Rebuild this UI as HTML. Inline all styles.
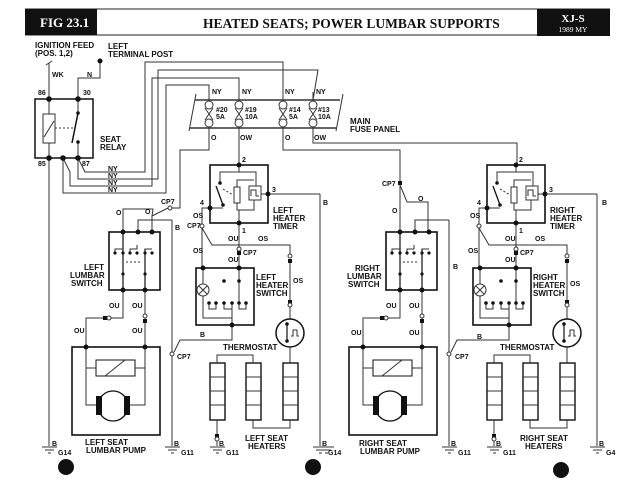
<!DOCTYPE html>
<html><head><meta charset="utf-8"><style>
html,body{margin:0;padding:0;background:#fff;}
svg{display:block}
text{font-family:"Liberation Sans",sans-serif;font-weight:bold;fill:#111}
.s{font-size:7px}
.m{font-size:8px}
</style></head><body>
<svg width="640" height="480" viewBox="0 0 640 480" xmlns="http://www.w3.org/2000/svg">
<rect width="640" height="480" fill="#fff"/>
<!-- header -->
<line x1="25" y1="9" x2="610" y2="9" stroke="#222" stroke-width="1"/>
<line x1="25" y1="35" x2="610" y2="35" stroke="#222" stroke-width="1"/>
<rect x="25" y="9" width="72" height="26" fill="#111"/>
<rect x="537" y="9" width="73" height="27" fill="#111"/>
<text x="40" y="27" style="font-family:'Liberation Serif',serif;font-size:13px;fill:#fff">FIG 23.1</text>
<text x="203" y="28" style="font-family:'Liberation Serif',serif;font-size:13.5px">HEATED SEATS; POWER LUMBAR SUPPORTS</text>
<text x="573" y="22" text-anchor="middle" style="font-family:'Liberation Serif',serif;font-size:11px;fill:#fff">XJ-S</text>
<text x="573" y="32" text-anchor="middle" style="font-family:'Liberation Serif',serif;font-size:7.5px;font-weight:normal;fill:#fff">1989 MY</text>

<g fill="none" stroke="#333" stroke-width="1">
<!-- relay -->
<rect x="35" y="99" width="58" height="59" stroke-width="1.5" stroke="#111"/>
<rect x="43" y="114" width="12" height="29" fill="#fff"/>
<line x1="44" y1="137" x2="54" y2="121"/>
<line x1="55" y1="128" x2="73" y2="128" stroke-dasharray="2,2"/>
<line x1="72" y1="143" x2="78" y2="113" stroke-width="1.5" stroke="#111"/>
<line x1="49" y1="99" x2="49" y2="114"/><line x1="49" y1="143" x2="49" y2="158"/>
<line x1="78" y1="99" x2="78" y2="113"/><line x1="78" y1="142" x2="78" y2="158"/>
<!-- feeds -->
<line x1="49" y1="99" x2="49" y2="63"/><line x1="46" y1="65" x2="52" y2="61"/>
<polyline points="78,99 78,78 100,78 100,61"/>
<!-- NY wires -->
<polyline points="78,158 85,172 145,172 145,62 283,62 283,100"/>
<polyline points="78,158 78,179 158,179 158,70 318,70 313,100"/>
<polyline points="63,158 70,172 70,186 152,186 152,78 239,78 239,100"/>
<polyline points="63,158 63,193 166,193 166,85 209,85 209,100"/>
<line x1="49" y1="158" x2="49" y2="446"/>
<!-- fuse panel -->
<line x1="195" y1="100" x2="340" y2="100" stroke-width="1.5"/>
<line x1="190" y1="128" x2="336" y2="128" stroke-width="1.5"/>
<line x1="196" y1="94" x2="189" y2="131"/>
<line x1="343" y1="94" x2="336" y2="131"/>
</g>
<g id="fuse" fill="#fff" stroke="#333">
<circle cx="209" cy="105" r="4"/><circle cx="209" cy="123" r="4"/>
<path d="M205,108 L213,120 M213,108 L205,120" fill="none"/>
</g>
<use href="#fuse" x="30"/><use href="#fuse" x="74"/><use href="#fuse" x="104"/>
<g fill="none" stroke="#333">
<line x1="209" y1="92" x2="209" y2="101"/><line x1="239" y1="92" x2="239" y2="101"/><line x1="283" y1="92" x2="283" y2="101"/><line x1="313" y1="92" x2="313" y2="101"/>
<!-- fuse outputs -->
<polyline points="209,127 209,150 180,150 180,208 172,208"/>
<polyline points="123,232 123,209 153,209 152,216 168,208"/>
<line x1="152" y1="232" x2="152" y2="216"/>
<line x1="239" y1="127" x2="239" y2="165"/>
<polyline points="283,127 283,150 400,150 400,182"/>
<polyline points="400,185 407,202 428,202 428,232"/>
<line x1="400" y1="185" x2="400" y2="232"/>
<polyline points="313,127 313,143 517,143 517,165"/>
<line x1="320" y1="194" x2="320" y2="446"/>
<line x1="269" y1="194" x2="320" y2="194"/>
</g>
<circle cx="170" cy="208" r="2" fill="#fff" stroke="#333"/>

<!-- half (shapes shared) -->
<g id="half">
<g fill="none" stroke="#333" stroke-width="1">
<!-- timer -->
<rect x="210" y="165" width="58" height="58" stroke="#111" stroke-width="1.6"/>
<polyline points="239,165 239,172 220,172 220,183"/>
<line x1="216" y1="186" x2="223" y2="205" stroke="#111" stroke-width="1.3"/>
<line x1="210" y1="208" x2="223" y2="208"/>
<line x1="223" y1="189" x2="233" y2="195" stroke-dasharray="2,2"/>
<polyline points="239,172 256,172 256,186"/>
<rect x="234" y="187" width="6" height="16"/>
<polyline points="237,187 237,180 254,180"/>
<rect x="249" y="186" width="12" height="14"/>
<path d="M251,196 L251,190 L256,190 L256,196 L259,196"/>
<polyline points="237,203 237,210 254,210 254,200"/>
<line x1="239" y1="210" x2="239" y2="223"/>
<line x1="261" y1="194" x2="268" y2="194"/>
<!-- timer wiring -->
<polyline points="210,208 202,208 202,224"/>
<line x1="202" y1="228" x2="202" y2="268"/>
<polyline points="202,228 212,245 290,245 290,257"/>
<line x1="239" y1="223" x2="239" y2="250"/>
<line x1="239" y1="254" x2="239" y2="268"/>
<line x1="290" y1="261" x2="290" y2="300"/>
<line x1="290" y1="304" x2="290" y2="319"/>
<!-- heater switch -->
<rect x="196" y="268" width="58" height="57" stroke="#111" stroke-width="1.6"/>
<line x1="203" y1="268" x2="203" y2="284"/>
<polyline points="203,296 203,318 232,318"/>
<line x1="239" y1="268" x2="239" y2="303"/>
<path d="M209,303 v6 h7 v-6 M224,303 v6 h8 v-6 M239,303 v6 h7 v-6"/>
<line x1="232" y1="303" x2="232" y2="325"/>
<polyline points="232,325 232,340 180,340 174,352"/>
<!-- thermostat -->
<circle cx="290" cy="333" r="14" stroke="#111" stroke-width="1.5"/>
<polyline points="287,324 287,341" stroke="#111" stroke-width="1.2"/>
<path d="M291,336 h2 v-6 h4 v6 h2"/>
<line x1="290" y1="347" x2="290" y2="363"/>
<!-- heaters -->
<rect x="210" y="363" width="15" height="57" stroke="#111" stroke-width="1.4"/>
<rect x="246" y="363" width="15" height="57" stroke="#111" stroke-width="1.4"/>
<rect x="283" y="363" width="15" height="57" stroke="#111" stroke-width="1.4"/>
<path d="M210,377 h15 M210,391 h15 M210,405 h15 M246,377 h15 M246,391 h15 M246,405 h15 M283,377 h15 M283,391 h15 M283,405 h15"/>
<polyline points="217,363 217,355 253,355 253,363"/>
<polyline points="253,420 253,428 290,428 290,420"/>
<line x1="217" y1="420" x2="217" y2="446"/>
<line x1="172" y1="220" x2="172" y2="446"/>
<!-- lumbar switch -->
<rect x="109" y="232" width="51" height="58" stroke="#111" stroke-width="1.6"/>
<polyline points="138,232 138,220 172,220"/>
<path d="M115,253 v-4 h8 v4 M130,253 v-4 h7 v-4 M145,253 v-4 h7"/>
<line x1="123" y1="232" x2="123" y2="290" stroke-width="1.4"/>
<line x1="145" y1="249" x2="145" y2="290" stroke-width="1.4"/>
<line x1="126" y1="262" x2="142" y2="262" stroke-dasharray="2,2"/>
<polyline points="123,290 123,318 108,318"/>
<polyline points="104,318 86,318 86,347"/>
<line x1="145" y1="290" x2="145" y2="347"/>
<!-- pump -->
<rect x="72" y="347" width="88" height="88" stroke="#111" stroke-width="1.6"/>
<rect x="96" y="360" width="39" height="16" stroke="#111"/>
<line x1="105" y1="376" x2="125" y2="360"/>
<path d="M86,347 V405 H97 M145,347 V405 H130 M86,368 H96 M135,368 H145"/>
<circle cx="113" cy="406" r="15" stroke="#111" stroke-width="1.3" fill="#fff"/>
</g>
<g fill="#111">
<rect x="96" y="396" width="6" height="19"/><rect x="124" y="396" width="6" height="19"/>
<circle cx="239" cy="165" r="2.5"/><circle cx="239" cy="223" r="2.5"/><circle cx="210" cy="208" r="2.5"/><circle cx="268" cy="194" r="2.5"/>
<circle cx="220" cy="183" r="1.8"/><circle cx="223" cy="205" r="1.8"/>
<circle cx="203" cy="268" r="2.5"/><circle cx="239" cy="268" r="2.5"/><circle cx="232" cy="325" r="2.5"/>
<circle cx="224" cy="281" r="1.8"/><circle cx="239" cy="281" r="1.8"/>
<circle cx="209" cy="303" r="1.8"/><circle cx="216" cy="303" r="1.8"/><circle cx="224" cy="303" r="1.8"/><circle cx="232" cy="303" r="1.8"/><circle cx="239" cy="303" r="1.8"/><circle cx="246" cy="303" r="1.8"/>
<circle cx="287" cy="324" r="1.8"/><circle cx="287" cy="341" r="1.8"/>
<circle cx="123" cy="232" r="2.5"/><circle cx="138" cy="232" r="2.5"/><circle cx="152" cy="232" r="2.5"/>
<circle cx="123" cy="290" r="2.5"/><circle cx="145" cy="290" r="2.5"/>
<circle cx="115" cy="253" r="1.6"/><circle cx="123" cy="253" r="1.6"/><circle cx="130" cy="253" r="1.6"/><circle cx="137" cy="253" r="1.6"/><circle cx="145" cy="253" r="1.6"/><circle cx="152" cy="253" r="1.6"/>
<circle cx="123" cy="274" r="1.6"/><circle cx="145" cy="274" r="1.6"/>
<circle cx="86" cy="347" r="2.5"/><circle cx="145" cy="347" r="2.5"/>
<rect x="237" y="251" width="4" height="4"/><rect x="103" y="316" width="4" height="4"/><rect x="143" y="319" width="4" height="4"/>
<rect x="288" y="300" width="4" height="4"/><rect x="288" y="259" width="4" height="4"/><rect x="215" y="434" width="4" height="4"/>
</g>
<g fill="#fff" stroke="#333">
<circle cx="203" cy="290" r="6"/><path d="M199,286 L207,294 M207,286 L199,294"/>
<circle cx="202" cy="226" r="2"/><circle cx="172" cy="354" r="2"/>
<circle cx="239" cy="249" r="2"/><circle cx="109" cy="318" r="2"/><circle cx="145" cy="316" r="2"/>
<circle cx="290" cy="256" r="2"/><circle cx="290" cy="305" r="2"/><circle cx="217" cy="439" r="2"/>
</g>
<!-- grounds -->
<g id="gnd" stroke="#333" fill="none"><path d="M42,447 h15 M45,450 h9 M48,453 h3"/></g>
<use href="#gnd" x="123"/><use href="#gnd" x="168"/>
</g>
<use href="#half" x="277"/>
<use href="#gnd"/><use href="#gnd" x="271"/><use href="#gnd" x="548"/>
<line x1="597" y1="194" x2="597" y2="446" stroke="#333"/>
<line x1="546" y1="194" x2="597" y2="194" stroke="#333"/>
<g fill="#111">
<circle cx="49" cy="99" r="2.8"/><circle cx="78" cy="99" r="2.8"/><circle cx="49" cy="158" r="2.8"/><circle cx="63" cy="158" r="2.8"/><circle cx="78" cy="158" r="2.8"/>
<circle cx="78" cy="113" r="1.8"/><circle cx="78" cy="142" r="1.8"/><circle cx="100" cy="61" r="2.5"/>
<rect x="398" y="181" width="4" height="4"/>
<circle cx="66" cy="467" r="8"/><circle cx="313" cy="467" r="8"/><circle cx="561" cy="470" r="8"/>
</g>

<!-- text -->
<text class="m" x="35" y="48">IGNITION FEED</text><text class="m" x="35" y="56">(POS. 1,2)</text>
<text class="m" x="108" y="49">LEFT</text><text class="m" x="108" y="57">TERMINAL POST</text>
<text class="s" x="52" y="77">WK</text><text class="s" x="87" y="77">N</text>
<text class="s" x="38" y="95">86</text><text class="s" x="83" y="95">30</text>
<text class="s" x="38" y="166">85</text><text class="s" x="82" y="166">87</text>
<text class="m" x="100" y="142">SEAT</text><text class="m" x="100" y="150">RELAY</text>
<text class="s" x="108" y="171">NY</text><text class="s" x="108" y="178">NY</text><text class="s" x="108" y="185">NY</text><text class="s" x="108" y="192">NY</text>
<text class="s" x="212" y="94">NY</text><text class="s" x="242" y="94">NY</text><text class="s" x="285" y="94">NY</text><text class="s" x="316" y="94">NY</text>
<text class="s" x="216" y="112">#20</text><text class="s" x="216" y="119">5A</text>
<text class="s" x="245" y="112">#19</text><text class="s" x="245" y="119">10A</text>
<text class="s" x="289" y="112">#14</text><text class="s" x="289" y="119">5A</text>
<text class="s" x="318" y="112">#13</text><text class="s" x="318" y="119">10A</text>
<text class="m" x="350" y="124">MAIN</text><text class="m" x="350" y="132">FUSE PANEL</text>
<text class="s" x="211" y="140">O</text><text class="s" x="240" y="140">OW</text><text class="s" x="285" y="140">O</text><text class="s" x="314" y="140">OW</text>
<text class="s" x="161" y="204">CP7</text><text class="s" x="145" y="214">O</text><text class="s" x="116" y="215">O</text><text class="s" x="175" y="230">B</text>
<text class="s" x="382" y="186">CP7</text><text class="s" x="418" y="201">O</text><text class="s" x="392" y="213">O</text><text class="s" x="602" y="205">B</text><text class="s" x="323" y="205">B</text>
<!-- left labels -->
<text class="s" x="242" y="162">2</text><text class="s" x="272" y="192">3</text><text class="s" x="200" y="205">4</text><text class="s" x="242" y="233">1</text>
<text class="m" x="273" y="213">LEFT</text><text class="m" x="273" y="221">HEATER</text><text class="m" x="273" y="229">TIMER</text>
<text class="s" x="193" y="218">OS</text><text class="s" x="187" y="228">CP7</text><text class="s" x="228" y="241">OU</text><text class="s" x="258" y="241">OS</text>
<text class="s" x="243" y="255">CP7</text><text class="s" x="193" y="253">OS</text><text class="s" x="228" y="262">OU</text><text class="s" x="293" y="283">OS</text>
<text class="m" x="256" y="280">LEFT</text><text class="m" x="256" y="288">HEATER</text><text class="m" x="256" y="296">SWITCH</text>
<text class="m" x="84" y="270">LEFT</text><text class="m" x="70" y="278">LUMBAR</text><text class="m" x="71" y="286">SWITCH</text>
<text class="s" x="109" y="308">OU</text><text class="s" x="132" y="308">OU</text><text class="s" x="74" y="333">OU</text><text class="s" x="132" y="333">OU</text>
<text class="s" x="200" y="337">B</text><text class="s" x="177" y="359">CP7</text>
<text class="m" x="223" y="350">THERMOSTAT</text>
<text class="m" x="85" y="445">LEFT SEAT</text><text class="m" x="86" y="453">LUMBAR PUMP</text>
<text class="m" x="245" y="441">LEFT SEAT</text><text class="m" x="248" y="449">HEATERS</text>
<text class="s" x="52" y="446">B</text><text class="s" x="58" y="455">G14</text>
<text class="s" x="174" y="446">B</text><text class="s" x="181" y="455">G11</text>
<text class="s" x="219" y="446">B</text><text class="s" x="226" y="455">G11</text>
<text class="s" x="322" y="446">B</text><text class="s" x="328" y="455">G14</text>
<!-- right labels -->
<text class="s" x="519" y="162">2</text><text class="s" x="549" y="192">3</text><text class="s" x="477" y="205">4</text><text class="s" x="519" y="233">1</text>
<text class="m" x="550" y="213">RIGHT</text><text class="m" x="550" y="221">HEATER</text><text class="m" x="550" y="229">TIMER</text>
<text class="s" x="470" y="218">OS</text><text class="s" x="505" y="241">OU</text><text class="s" x="535" y="241">OS</text>
<text class="s" x="520" y="255">CP7</text><text class="s" x="468" y="253">OS</text><text class="s" x="505" y="262">OU</text><text class="s" x="570" y="286">OS</text>
<text class="m" x="533" y="280">RIGHT</text><text class="m" x="533" y="288">HEATER</text><text class="m" x="533" y="296">SWITCH</text>
<text class="m" x="355" y="271">RIGHT</text><text class="m" x="347" y="279">LUMBAR</text><text class="m" x="348" y="287">SWITCH</text>
<text class="s" x="453" y="269">B</text>
<text class="s" x="386" y="308">OU</text><text class="s" x="409" y="308">OU</text><text class="s" x="351" y="335">OU</text><text class="s" x="409" y="335">OU</text>
<text class="s" x="477" y="339">B</text><text class="s" x="455" y="359">CP7</text>
<text class="m" x="500" y="350">THERMOSTAT</text>
<text class="m" x="359" y="446">RIGHT SEAT</text><text class="m" x="360" y="454">LUMBAR PUMP</text>
<text class="m" x="520" y="441">RIGHT SEAT</text><text class="m" x="525" y="449">HEATERS</text>
<text class="s" x="451" y="446">B</text><text class="s" x="458" y="455">G11</text>
<text class="s" x="496" y="446">B</text><text class="s" x="503" y="455">G11</text>
<text class="s" x="599" y="446">B</text><text class="s" x="606" y="455">G4</text>
</svg>
</body></html>
